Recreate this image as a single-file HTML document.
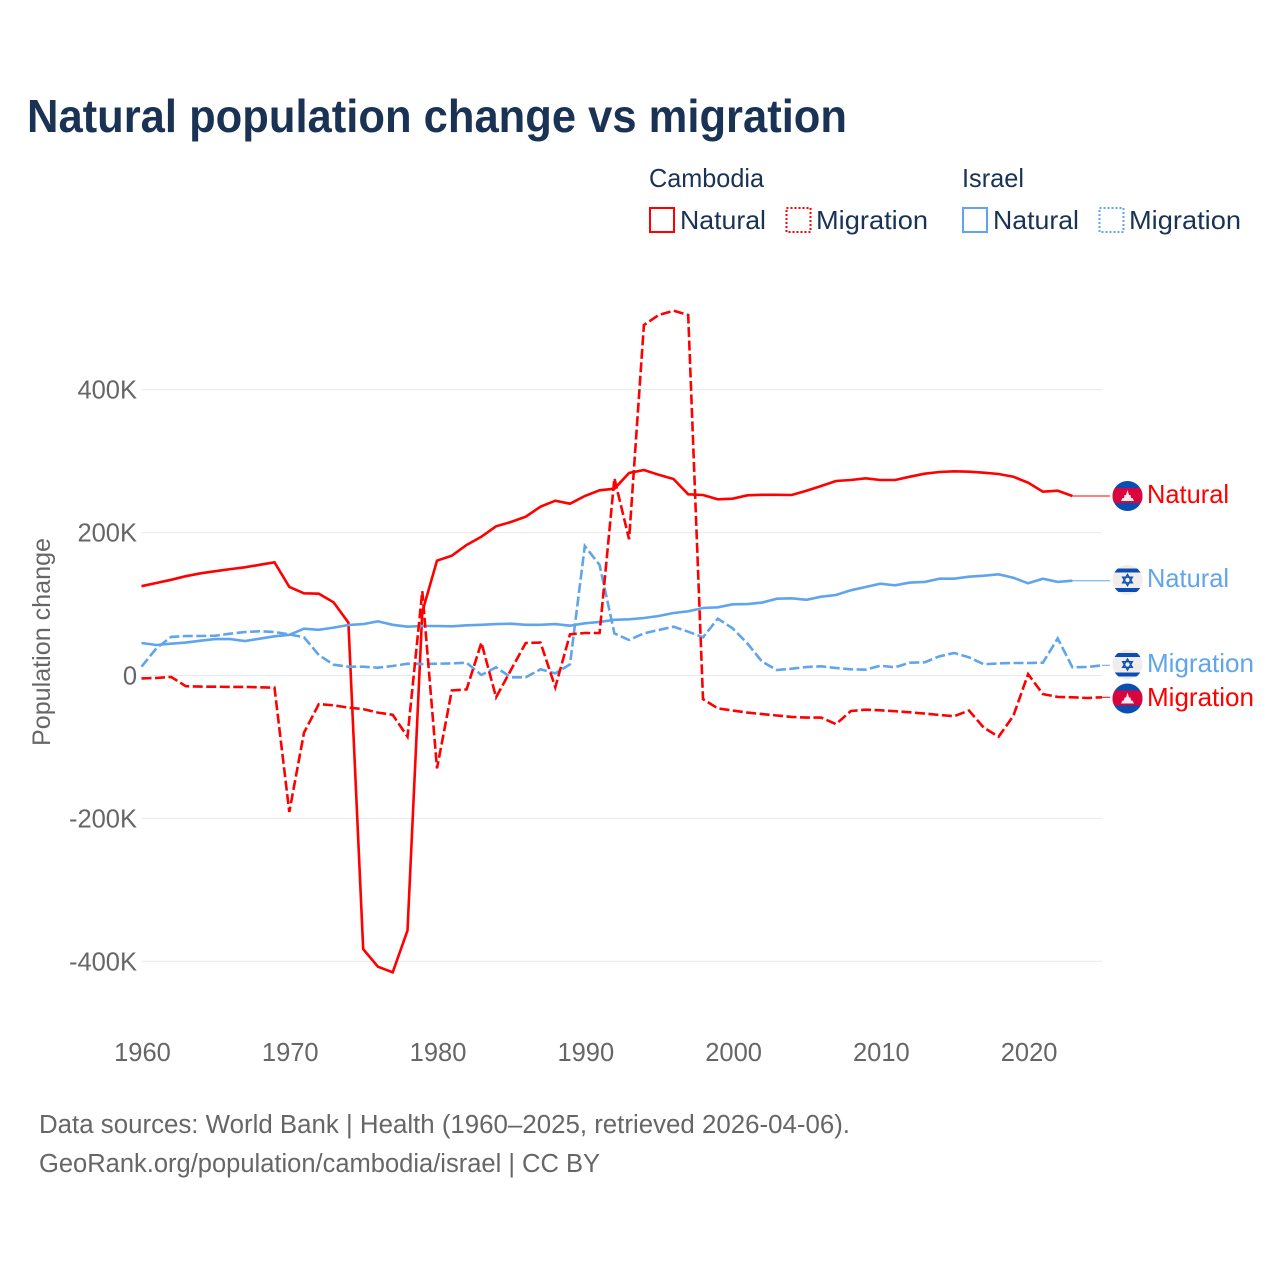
<!DOCTYPE html>
<html lang="en">
<head>
<meta charset="utf-8">
<title>Natural population change vs migration</title>
<style>
html,body{margin:0;padding:0;background:#fff;width:1280px;height:1280px;overflow:hidden}
svg{display:block}
text{font-family:"Liberation Sans",sans-serif}
</style>
</head>
<body>
<svg id="chart" xmlns="http://www.w3.org/2000/svg" width="1280" height="1280" viewBox="0 0 1280 1280">
  <defs>
    <clipPath id="flag-clip"><circle cx="0" cy="0" r="15"/></clipPath>
  </defs>
  <rect x="0" y="0" width="1280" height="1280" fill="#fff"/>
  <text x="27" y="132" font-size="46" font-weight="700" fill="#1a3355" textLength="820" lengthAdjust="spacingAndGlyphs">Natural population change vs migration</text>

  <g font-size="26" fill="#1a3355">
    <text x="649" y="187" textLength="115" lengthAdjust="spacingAndGlyphs">Cambodia</text>
    <rect x="650" y="208" width="24" height="24" fill="none" stroke="#ff0000" stroke-width="2"/>
    <text x="680" y="229" textLength="86" lengthAdjust="spacingAndGlyphs">Natural</text>
    <rect x="786.5" y="208" width="24" height="24" fill="none" stroke="#ff0000" stroke-width="2" stroke-dasharray="2 2"/>
    <text x="816" y="229" textLength="112" lengthAdjust="spacingAndGlyphs">Migration</text>
    <text x="962" y="187" textLength="62" lengthAdjust="spacingAndGlyphs">Israel</text>
    <rect x="963" y="208" width="24" height="24" fill="none" stroke="#60a5ec" stroke-width="2"/>
    <text x="993" y="229" textLength="86" lengthAdjust="spacingAndGlyphs">Natural</text>
    <rect x="1099.5" y="208" width="24" height="24" fill="none" stroke="#60a5ec" stroke-width="2" stroke-dasharray="2 2"/>
    <text x="1129" y="229" textLength="112" lengthAdjust="spacingAndGlyphs">Migration</text>
  </g>

  <g id="grid"></g>
  <g id="yticks" font-size="25.5" fill="#666" text-anchor="end"></g>
  <g id="xticks" font-size="25.5" fill="#666" text-anchor="middle"></g>
  <text transform="translate(50,642) rotate(-90)" font-size="25" fill="#666" text-anchor="middle" textLength="208" lengthAdjust="spacingAndGlyphs">Population change</text>

  <g id="series"></g>

  <g font-size="26">
    <g transform="translate(1127.5,496)">
      <g clip-path="url(#flag-clip)"><rect x="-15" y="-15" width="30" height="30" fill="#0b4eb3"/><rect x="-15" y="-8" width="30" height="15" fill="#d9043d"/><polygon points="-6.5,5 -5,2 -3.5,2 -3,-1 -1.5,-1 0,-6 1.5,-1 3,-1 3.5,2 5,2 6.5,5" fill="#f0ecec"/></g>
    </g>
    <text x="1147" y="503" fill="#ff0000" textLength="82" lengthAdjust="spacingAndGlyphs">Natural</text>
    <g transform="translate(1127.5,580)">
      <g clip-path="url(#flag-clip)"><rect x="-15" y="-15" width="30" height="30" fill="#f0ecec"/><rect x="-15" y="-11.5" width="30" height="4" fill="#0b4eb3"/><rect x="-15" y="8" width="30" height="4" fill="#0b4eb3"/><polygon points="0,-5.5 4.8,2.8 -4.8,2.8" fill="none" stroke="#0b4eb3" stroke-width="1.4"/><polygon points="0,5.5 4.8,-2.8 -4.8,-2.8" fill="none" stroke="#0b4eb3" stroke-width="1.4"/></g>
    </g>
    <text x="1147" y="587" fill="#60a5ec" textLength="82" lengthAdjust="spacingAndGlyphs">Natural</text>
    <g transform="translate(1127.5,664.5)">
      <g clip-path="url(#flag-clip)"><rect x="-15" y="-15" width="30" height="30" fill="#f0ecec"/><rect x="-15" y="-11.5" width="30" height="4" fill="#0b4eb3"/><rect x="-15" y="8" width="30" height="4" fill="#0b4eb3"/><polygon points="0,-5.5 4.8,2.8 -4.8,2.8" fill="none" stroke="#0b4eb3" stroke-width="1.4"/><polygon points="0,5.5 4.8,-2.8 -4.8,-2.8" fill="none" stroke="#0b4eb3" stroke-width="1.4"/></g>
    </g>
    <text x="1147" y="672" fill="#60a5ec" textLength="107" lengthAdjust="spacingAndGlyphs">Migration</text>
    <g transform="translate(1127.5,698.5)">
      <g clip-path="url(#flag-clip)"><rect x="-15" y="-15" width="30" height="30" fill="#0b4eb3"/><rect x="-15" y="-8" width="30" height="15" fill="#d9043d"/><polygon points="-6.5,5 -5,2 -3.5,2 -3,-1 -1.5,-1 0,-6 1.5,-1 3,-1 3.5,2 5,2 6.5,5" fill="#f0ecec"/></g>
    </g>
    <text x="1147" y="706" fill="#ff0000" textLength="107" lengthAdjust="spacingAndGlyphs">Migration</text>
  </g>

  <g font-size="25.5" fill="#666">
    <text x="39" y="1133" textLength="811" lengthAdjust="spacingAndGlyphs">Data sources: World Bank | Health (1960–2025, retrieved 2026-04-06).</text>
    <text x="39" y="1172" textLength="561" lengthAdjust="spacingAndGlyphs">GeoRank.org/population/cambodia/israel | CC BY</text>
  </g>
</svg>

<script>
const startYear = 1960;
const xTickYears = [1960, 1970, 1980, 1990, 2000, 2010, 2020];
const yTickValues = [400, 200, 0, -200, -400];
const yTickLabels = ["400K", "200K", "0", "-200K", "-400K"];

const cambodiaNatural = [125,129.5,134,139,143,146,149,151.5,155,158.5,124,115,114.5,102.5,74,-383,-407.6,-415.5,-357,89,160.7,167.7,182.7,194.3,208.8,214.9,222.3,236.3,244.7,240.5,251.3,259.2,261.5,283.5,287.7,281,275,253.6,252.7,246.6,247.5,252.2,253,253,252.7,258.7,265.3,272.3,273.7,276,273.7,273.7,278.3,282.5,284.9,285.8,285.3,283.9,282,278.3,269.9,257.3,258.7,251.3];
const cambodiaMigration = [-4,-3.5,-2,-15,-15.5,-15.7,-16,-16,-16.5,-17,-191,-80,-40,-41.7,-45,-47,-52,-55,-85.6,118,-130,-21,-19.4,46,-30.5,7.7,45.5,46,-16.5,57.7,59.5,59.5,276,190.6,490.6,504.6,510.7,504.6,-33,-46,-49,-52,-54,-56,-58,-59,-59,-68,-49.7,-47.9,-48.7,-50,-51.5,-53.4,-55.3,-57,-49,-73,-85.6,-56.7,2,-26,-30,-30.5,-31.5,-30.5];
const israelNatural = [45.5,42.7,44.5,46,48.7,51,51,48.3,51.5,54.9,57,65.5,64,67,70.7,72,75.9,71,68.3,69.3,69.3,68.9,70.2,71,72,72.5,71,71,72,69.7,73,75,78,78.6,80.5,83.3,87.5,89.9,94.5,95.5,99.7,100,102,107.5,108,106,110.3,112.7,119.3,123.9,128.5,126.3,130,131,135.5,135.5,138.3,139.7,141.7,136.9,129,135.5,131,132.7];
const israelMigration = [12.3,38,54,55.3,55.3,55.7,58.5,60.9,61.9,60.9,57.6,53.5,28.7,15.1,12.3,12.3,10.9,13.3,16.5,16,16.5,17,17.9,0.7,11.5,-2.5,-2.5,8.7,3,15.7,181.3,154.7,59,49.7,59,63.7,68.3,61.3,53.5,79.5,66,45,19.3,7.7,9.5,11.9,12.9,10.5,8.7,8.1,13.7,11.5,17.9,18.5,26.9,31.5,25.5,15.7,17,17.5,17.5,17.9,52,11.5,11.9,14.3];

const svgNS = "http://www.w3.org/2000/svg";
const RED = "#ff0000";
const BLUE = "#60a5ec";
const LEFT = 141.5;
const RIGHT = 1102;
const LABEL_X = 1110;

function xScale(year) {
  return LEFT + (year - startYear) * (RIGHT - LEFT) / 65;
}
function yScale(k) {
  return 675.5 - k * 0.7144;
}
function make(tag, parentId, attrs) {
  const el = document.createElementNS(svgNS, tag);
  Object.keys(attrs).forEach(function (k) { el.setAttribute(k, attrs[k]); });
  document.getElementById(parentId).appendChild(el);
  return el;
}

yTickValues.forEach(function (v, i) {
  const line = make("line", "grid", { x1: LEFT, x2: RIGHT, y1: yScale(v), y2: yScale(v), stroke: "#e9e9e9", "stroke-width": 1 });
  
  
  const label = make("text", "yticks", { x: 137, y: yScale(v) + 9 });
  
  
  label.textContent = yTickLabels[i];
});

xTickYears.forEach(function (year) {
  const label = make("text", "xticks", { x: xScale(year) + 1, y: 1061 });
  
  
  label.textContent = String(year);
});

function drawSeries(values, color, dashed, name) {
  const pts = values.map(function (v, i) {
    return xScale(startYear + i).toFixed(1) + "," + yScale(v).toFixed(1);
  }).join(" ");
  const attrs = { points: pts, fill: "none", stroke: color, "stroke-width": 2.6, "stroke-linejoin": "miter" };
  if (dashed) attrs["stroke-dasharray"] = "10 3.5";
  const line = make("polyline", "series", attrs);
  
  
  const lastIndex = values.length - 1;
  const connector = make("line", "series", {
    x1: xScale(startYear + lastIndex), x2: LABEL_X,
    y1: yScale(values[lastIndex]), y2: yScale(values[lastIndex]),
    stroke: color, "stroke-width": 1
  });
  
  
}

drawSeries(cambodiaNatural, RED, false, "line-cambodia-natural");
drawSeries(israelNatural, BLUE, false, "line-israel-natural");
drawSeries(israelMigration, BLUE, true, "line-israel-migration");
drawSeries(cambodiaMigration, RED, true, "line-cambodia-migration");
</script>
</body>
</html>
